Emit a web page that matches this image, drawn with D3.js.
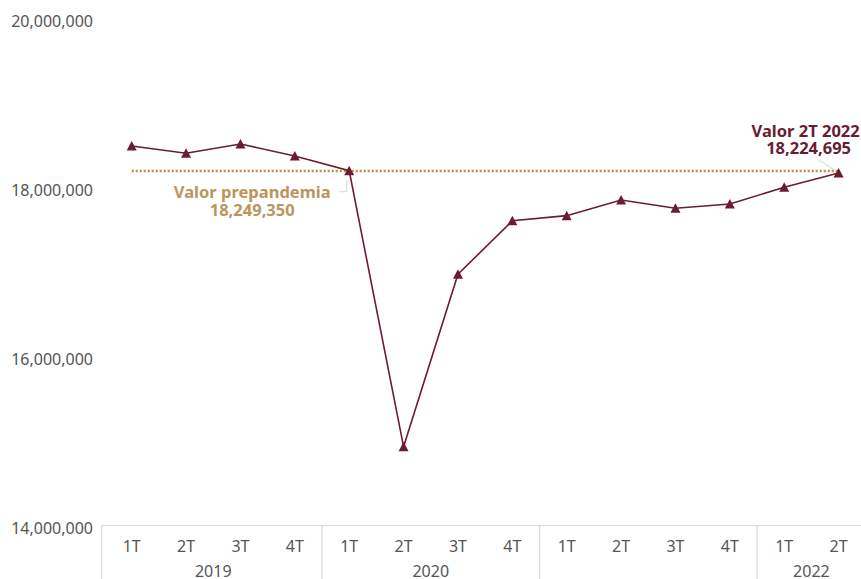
<!DOCTYPE html>
<html>
<head>
<meta charset="utf-8">
<script src="https://cdn.jsdelivr.net/npm/d3@7"></script>
<style>
  html, body { margin: 0; padding: 0; background: #ffffff; }
  svg { display: block; font-family: "Noto Sans", "Open Sans", sans-serif; }
</style>
</head>
<body>
<svg id="chart" width="861" height="579"></svg>
<script>
// ---- data ----
const quarters = ["1T","2T","3T","4T","1T","2T","3T","4T","1T","2T","3T","4T","1T","2T"];
const quarterYears = ["2019","2019","2019","2019","2020","2020","2020","2020","2021","2021","2021","2021","2022","2022"];
const years = ["2019","2020","2021","2022"];
const yearLabelsShown = ["2019","2020","2022"];
const values = [18544000, 18458000, 18568000, 18426000, 18252000, 14986000, 17026000, 17660000, 17720000, 17905000, 17807000, 17858000, 18056000, 18224695];
const yTicks = [14000000, 16000000, 18000000, 20000000];
const prepandemia = 18249350;
const lastLabel = ["Valor 2T 2022", "18,224,695"];
const prepLabel = ["Valor prepandemia", "18,249,350"];

// ---- layout ----
const W = 861, H = 579;
const plotLeft = 104.5, plotRight = 865.8;
const svg = d3.select("#chart");
const keys = quarters.map((q, i) => i);

const x = d3.scaleBand().domain(keys).range([plotLeft, plotRight]).padding(0);
const y = d3.scaleLinear().domain([14000000, 20000000]).range([530, 23]);
const cx = i => x(i) + x.bandwidth() / 2;

const maroon = "#691C32";
const gold = "#BC955C";
const fmt = d3.format(",");

// y axis labels
const yAxis = d3.axisLeft(y).tickValues(yTicks).tickFormat(fmt).tickSize(0).tickPadding(0);
const gy = svg.append("g").attr("transform", "translate(93,-1.5)").call(yAxis);
gy.select(".domain").remove();
gy.selectAll("text").attr("fill", "#555").style("font-size", "16px").style("font-family", "'Noto Sans', sans-serif");

// category box (grouped categories)
const axisY = 525.5;
svg.append("line").attr("x1", plotLeft - 2.8).attr("x2", W).attr("y1", axisY).attr("y2", axisY)
  .attr("stroke", "#d9d9d9").attr("stroke-width", 1.2);
const groupStarts = years.map(yr => quarterYears.indexOf(yr));
groupStarts.forEach((s, gi) => {
  const xx = gi === 0 ? plotLeft - 2.8 : x(s);
  svg.append("line").attr("x1", xx).attr("x2", xx).attr("y1", axisY).attr("y2", H)
    .attr("stroke", "#d9d9d9").attr("stroke-width", 1.2);
});
// quarter labels
svg.append("g").selectAll("text").data(keys).join("text")
  .attr("x", i => cx(i)).attr("y", 551.5)
  .attr("text-anchor", "middle").attr("fill", "#555").style("font-size", "16px")
  .text(i => quarters[i]);
// year labels
svg.append("g").selectAll("text").data(years.filter(yr => yearLabelsShown.includes(yr))).join("text")
  .attr("x", yr => {
    const s = quarterYears.indexOf(yr), e = quarterYears.lastIndexOf(yr);
    const right = Math.min(x(e) + x.bandwidth(), plotRight);
    return (x(s) + right) / 2;
  })
  .attr("y", 576.5)
  .attr("text-anchor", "middle").attr("fill", "#555").style("font-size", "16px")
  .text(d => d);

// prepandemia dotted line
svg.append("line")
  .attr("x1", cx(0)).attr("x2", cx(keys.length - 1))
  .attr("y1", y(prepandemia)).attr("y2", y(prepandemia))
  .attr("stroke", gold).attr("stroke-width", 2.6).attr("stroke-dasharray", "2.2,1.8");

// series line
const line = d3.line().x(i => cx(i)).y(i => y(values[i]));
svg.append("path").datum(keys).attr("d", line)
  .attr("fill", "none").attr("stroke", maroon).attr("stroke-width", 1.6);

// triangle markers (box-centered, Highcharts style)
const r = 5;
svg.append("g").selectAll("path").data(keys).join("path")
  .attr("d", i => {
    const px = cx(i), py = y(values[i]);
    return `M${px},${py - r}L${px + r},${py + r - 0.5}L${px - r},${py + r - 0.5}Z`;
  })
  .attr("fill", maroon);

// annotation: prepandemia
const pI = 4;
const pX = cx(pI), pY = y(values[pI]);
svg.append("path")
  .attr("d", `M${pX - 2.5},${pY + 9}V${pY + 21}H${pX - 10}`)
  .attr("fill", "none").attr("stroke", "#d6d6d6").attr("stroke-width", 1);
const tP = svg.append("text")
  .attr("text-anchor", "middle").attr("fill", gold)
  .style("font-size", "16.5px").style("font-weight", "bold");
tP.selectAll("tspan").data(prepLabel).join("tspan")
  .attr("x", pX - 97).attr("y", (d, k) => pY + 27 + k * 18.3)
  .text(d => d);

// annotation: last value
const lI = keys.length - 1;
const lX = cx(lI), lY = y(values[lI]);
svg.append("line")
  .attr("x1", lX - 20).attr("y1", lY - 13).attr("x2", lX - 4).attr("y2", lY - 3)
  .attr("stroke", "#d6d6d6").attr("stroke-width", 1);
const tL = svg.append("text")
  .attr("text-anchor", "middle").attr("fill", maroon)
  .style("font-size", "16.5px").style("font-weight", "bold");
tL.selectAll("tspan").data(lastLabel).join("tspan")
  .attr("x", (d, k) => lX - 33 + k * 3).attr("y", (d, k) => lY - 36 + k * 16.6)
  .text(d => d);
</script>
</body>
</html>
